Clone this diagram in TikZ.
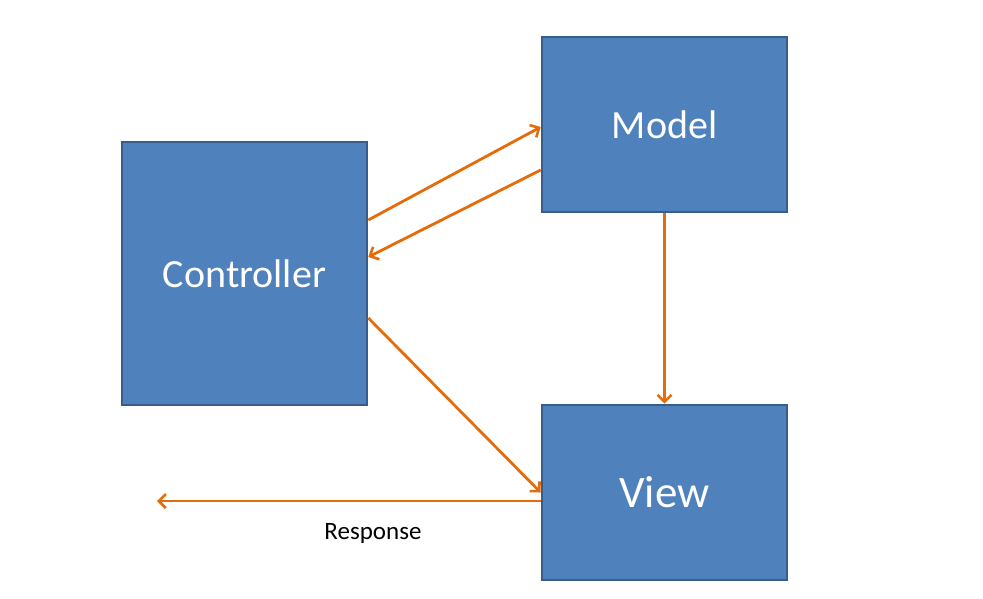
\documentclass[tikz,border=0pt]{standalone}
\usepackage{fontspec}
\setmainfont{Carlito}
\usetikzlibrary{arrows.meta}
\definecolor{boxfill}{HTML}{4F81BD}
\definecolor{boxline}{HTML}{385D8A}
\definecolor{arr}{HTML}{E46C0A}
\begin{document}
\begin{tikzpicture}[x=1pt,y=-1pt,
  blk/.style={draw=boxline,fill=boxfill,line width=2.6pt,text=white,inner sep=0pt},
  conn/.style={draw=arr,line width=2.8pt,-{Straight Barb[length=7pt,width=14pt,line width=2.6pt]}}]
\useasboundingbox (0,0) rectangle (983,598);
\node[blk,minimum width=245pt,minimum height=263pt,font=\fontsize{40}{48}\selectfont] (ctrl) at (244.5,273.5) {Controller};
\node[blk,minimum width=245pt,minimum height=175pt,font=\fontsize{40}{48}\selectfont] (model) at (664.5,124.5) {Model};
\node[blk,minimum width=245pt,minimum height=175pt,font=\fontsize{45}{54}\selectfont] (view) at (664.5,492.5) {View};
\coordinate (out) at (157,501);
\node[font=\fontsize{25}{30}\selectfont] (resp) at (373,533) {Response};
\draw[conn] ([yshift=53.5pt]ctrl.east) -- ([yshift=-2.5pt]model.west);
\draw[conn] ([yshift=-45.5pt]model.west) -- ([yshift=16.5pt]ctrl.east);
\draw[conn] ([yshift=-44.5pt]ctrl.east) -- (view.west);
\draw[conn] (model.south) -- (view.north);
\draw[conn] ([yshift=-8.5pt]view.west) -- (out);
\end{tikzpicture}
\end{document}
